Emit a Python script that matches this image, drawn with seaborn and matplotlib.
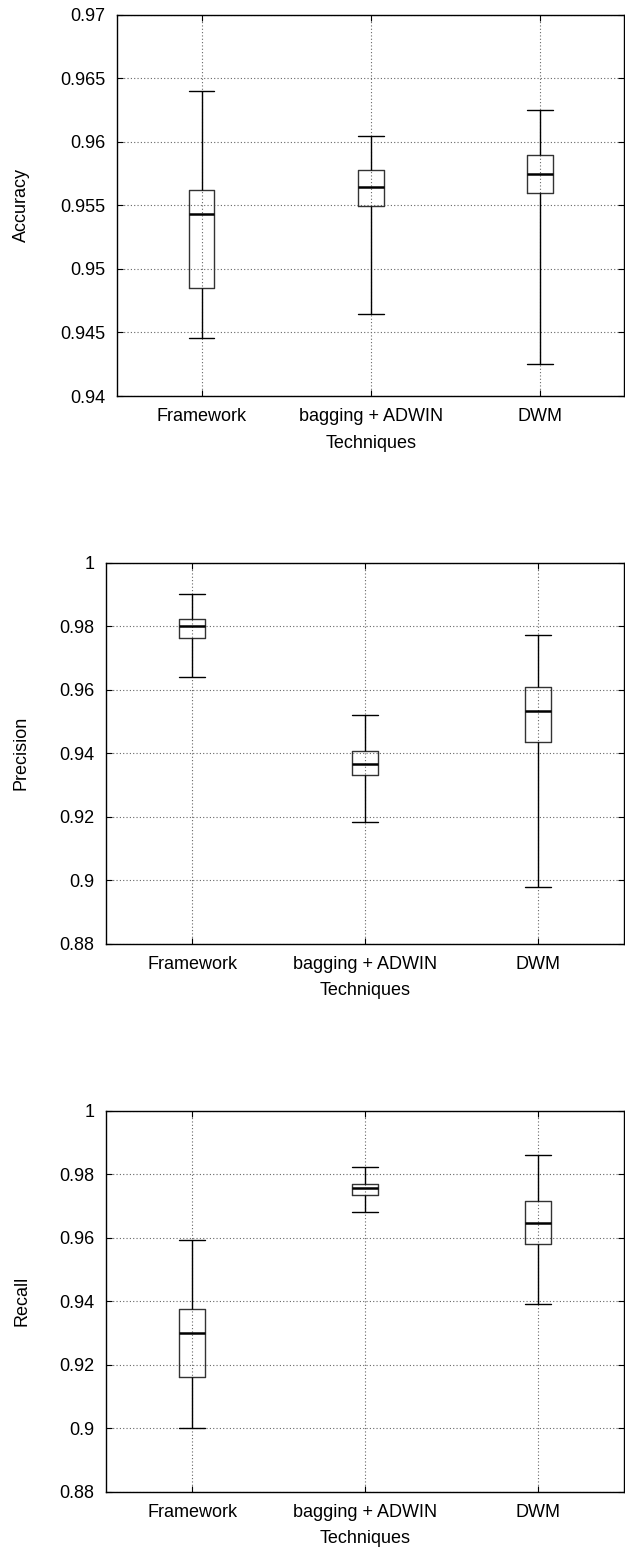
import numpy as np
import pandas as pd
import matplotlib
matplotlib.use("Agg")
import matplotlib.pyplot as plt
from matplotlib.ticker import FuncFormatter
import seaborn as sns

sns.set_style("ticks")
plt.rcParams["font.family"] = ["Liberation Sans", "DejaVu Sans"]
plt.rcParams["text.color"] = "black"
plt.rcParams["axes.labelcolor"] = "black"

techniques = ["Framework", "bagging + ADWIN", "DWM"]

# five-number summaries per technique: [min, q1, median, q3, max]
accuracy = {
    "Framework":       [0.94457, 0.9485, 0.95432, 0.95624, 0.96402],
    "bagging + ADWIN": [0.94648, 0.95498, 0.95647, 0.95781, 0.96046],
    "DWM":             [0.94250, 0.95597, 0.95749, 0.95896, 0.96248],
}
precision = {
    "Framework":       [0.96406, 0.97625, 0.98014, 0.98224, 0.99020],
    "bagging + ADWIN": [0.91846, 0.93306, 0.93653, 0.94074, 0.95198],
    "DWM":             [0.89797, 0.94347, 0.95345, 0.96091, 0.97730],
}
recall = {
    "Framework":       [0.90016, 0.91622, 0.92997, 0.93753, 0.95916],
    "bagging + ADWIN": [0.96798, 0.97344, 0.97575, 0.97701, 0.98226],
    "DWM":             [0.93900, 0.95790, 0.96472, 0.97165, 0.98604],
}

acc_ticks = [0.94, 0.945, 0.95, 0.955, 0.96, 0.965, 0.97]
pr_ticks = [0.88, 0.9, 0.92, 0.94, 0.96, 0.98, 1.0]

panels = [
    ("Accuracy", accuracy, acc_ticks, [0.1877, 0.7445, 0.8113, 0.2460]),
    ("Precision", precision, pr_ticks, [0.1696, 0.3910, 0.8294, 0.2460]),
    ("Recall", recall, pr_ticks, [0.1696, 0.0376, 0.8294, 0.2458]),
]

fig = plt.figure(figsize=(6.25, 15.5), dpi=100)
fmt = FuncFormatter(lambda v, p: "%g" % round(v, 4))

for ylabel, summary, ticks, rect in panels:
    ax = fig.add_axes(rect)
    df = pd.DataFrame(
        [(t, v) for t in techniques for v in summary[t]],
        columns=["Technique", "Value"],
    )
    sns.boxplot(
        data=df, x="Technique", y="Value", order=techniques, ax=ax,
        whis=(0, 100), width=0.15, fill=False, linecolor="black",
        linewidth=1.0, capwidths=0.15, showfliers=False,
        boxprops=dict(color="#333333", linewidth=1.0),
        whiskerprops=dict(color="black", linewidth=1.0),
        capprops=dict(color="black", linewidth=1.0),
        medianprops=dict(color="black", linewidth=1.8),
    )
    ax.set_xlim(-0.5, 2.5)
    ax.set_ylim(ticks[0], ticks[-1])
    ax.set_yticks(ticks)
    ax.yaxis.set_major_formatter(fmt)
    ax.set_axisbelow(True)
    ax.grid(True, linestyle=(0, (1, 2)), color="#666666", linewidth=0.8)
    for s in ax.spines.values():
        s.set_visible(True)
        s.set_color("black")
        s.set_linewidth(1.0)
    ax.tick_params(axis="both", direction="in", length=4, width=0.8,
                   top=True, right=True, labelsize=13, pad=8.5,
                   colors="black", labelcolor="black")
    ax.set_xlabel("Techniques", fontsize=13, labelpad=7)
    ax.set_ylabel(ylabel, fontsize=13)
    wpx = rect[2] * 625
    lpx = rect[0] * 625
    ax.yaxis.set_label_coords((30 - lpx) / wpx, 0.5)

fig.savefig("out.png", dpi=100, facecolor="white")
